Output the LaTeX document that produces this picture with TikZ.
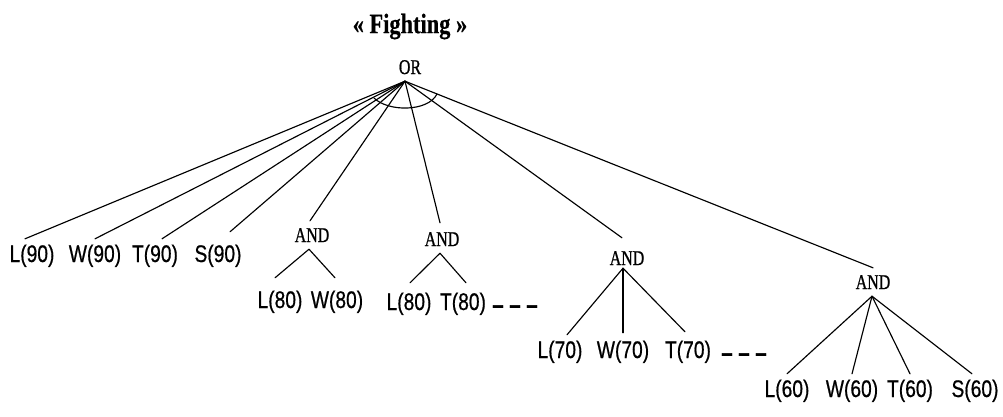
\documentclass[tikz,border=0pt]{standalone}
\usepackage{fontspec}
\setmainfont{Liberation Serif}
\newfontfamily\leaffont[FakeStretch=0.8,FakeBold=0.6]{Liberation Sans}
\newfontfamily\dashfont[FakeStretch=0.85,FakeBold=1.5]{Liberation Sans}
\newfontfamily\titlefont[FakeStretch=0.8,FakeBold=0.5]{Liberation Serif}
\newfontfamily\gatefont[FakeStretch=0.76,FakeBold=0.8]{Liberation Serif}
\begin{document}
\begin{tikzpicture}[x=1pt,y=-1pt,
  leafnode/.style={font=\leaffont\fontsize{24}{24}\selectfont, inner xsep=0pt, inner ysep=9pt, text height=14pt, text depth=4pt},
  dashnode/.style={leafnode, font=\dashfont\bfseries\fontsize{24}{24}\selectfont},
  gate/.style={font=\gatefont\fontsize{21}{21}\selectfont, inner xsep=0pt, inner ysep=7pt, text height=14pt, text depth=0pt},
  ornode/.style={gate, font=\gatefont\fontsize{21}{21}\selectfont},
  titlenode/.style={font=\titlefont\bfseries\fontsize{28}{28}\selectfont, inner sep=0pt},
  edge/.style={line width=1.15pt, line cap=round}]
\useasboundingbox (0,0) rectangle (1003,416);
\fill[white] (0,0) rectangle (1003,416);

% title and root
\node[titlenode] (title) at (410,26.5) {« Fighting »};
\node[ornode] (or) at (410,67) {OR};

% first-level leaves
\node[leafnode] (l90) at (32,257) {L(90)};
\node[leafnode] (w90) at (95,257) {W(90)};
\node[leafnode] (t90) at (155,257) {T(90)};
\node[leafnode] (s90) at (218,257) {S(90)};

% AND gates
\node[gate] (and1) at (312,235) {AND};
\node[gate] (and2) at (442,239) {AND};
\node[gate] (and3) at (627,258) {AND};
\node[gate] (and4) at (873,282) {AND};

% AND children
\node[leafnode] (l80a) at (280,303) {L(80)};
\node[leafnode] (w80)  at (337,303) {W(80)};
\node[leafnode] (l80b) at (409,305) {L(80)};
\node[leafnode] (t80)  at (463,305) {T(80)};
\node[dashnode] (dash1) at (515,308) {– – –};

\node[leafnode] (l70) at (560,353) {L(70)};
\node[leafnode] (w70) at (623,353) {W(70)};
\node[leafnode] (t70) at (688,353) {T(70)};
\node[dashnode] (dash2) at (744,356) {– – –};

\node[leafnode] (l60) at (787,392) {L(60)};
\node[leafnode] (w60) at (852,392) {W(60)};
\node[leafnode] (t60) at (910,392) {T(60)};
\node[leafnode] (s60) at (975,392) {S(60)};

% edges from OR
\draw[edge] ([xshift=-5pt]or.south) -- ([xshift=-7pt]l90.north);
\draw[edge] ([xshift=-5pt]or.south) -- (w90.north);
\draw[edge] ([xshift=-5pt]or.south) -- ([xshift=7pt]t90.north);
\draw[edge] ([xshift=-5pt]or.south) -- ([xshift=12pt,yshift=7pt]s90.north);
\draw[edge] ([xshift=-5pt]or.south) -- ([xshift=-2pt]and1.north);
\draw[edge] ([xshift=-5pt]or.south) -- ([xshift=-2pt,yshift=2pt]and2.north);
\draw[edge] ([xshift=-5pt]or.south) -- ([xshift=-5pt,yshift=6pt]and3.north);
\draw[edge] ([xshift=-5pt]or.south) -- (and4.north);

% OR arc
\draw[edge] (374,98) .. controls (388,112) and (428,112) .. (437,94);

% AND1
\draw[edge] ([xshift=-3pt]and1.south) -- ([xshift=-5pt,yshift=7pt]l80a.north);
\draw[edge] ([xshift=-3pt]and1.south) -- ([xshift=-2pt,yshift=7pt]w80.north);
% AND2
\draw[edge] ([xshift=-2pt]and2.south) -- ([xshift=1pt,yshift=4pt]l80b.north);
\draw[edge] ([xshift=-2pt]and2.south) -- ([xshift=3pt,yshift=4pt]t80.north);
% AND3
\draw[edge] ([xshift=-4pt,yshift=4pt]and3.south) -- ([xshift=7pt]l70.north);
\draw[edge] ([xshift=-4pt,yshift=4pt]and3.south) -- ([yshift=2pt]w70.north);
\draw[edge] ([xshift=-4pt,yshift=4pt]and3.south) -- ([xshift=-3pt,yshift=3pt]t70.north);
% AND4
\draw[edge] ([xshift=-1pt]and4.south) -- (l60.north);
\draw[edge] ([xshift=-1pt]and4.south) -- (w60.north);
\draw[edge] ([xshift=-1pt]and4.south) -- (t60.north);
\draw[edge] ([xshift=-1pt]and4.south) -- ([xshift=-3pt]s60.north);
\end{tikzpicture}
\end{document}
